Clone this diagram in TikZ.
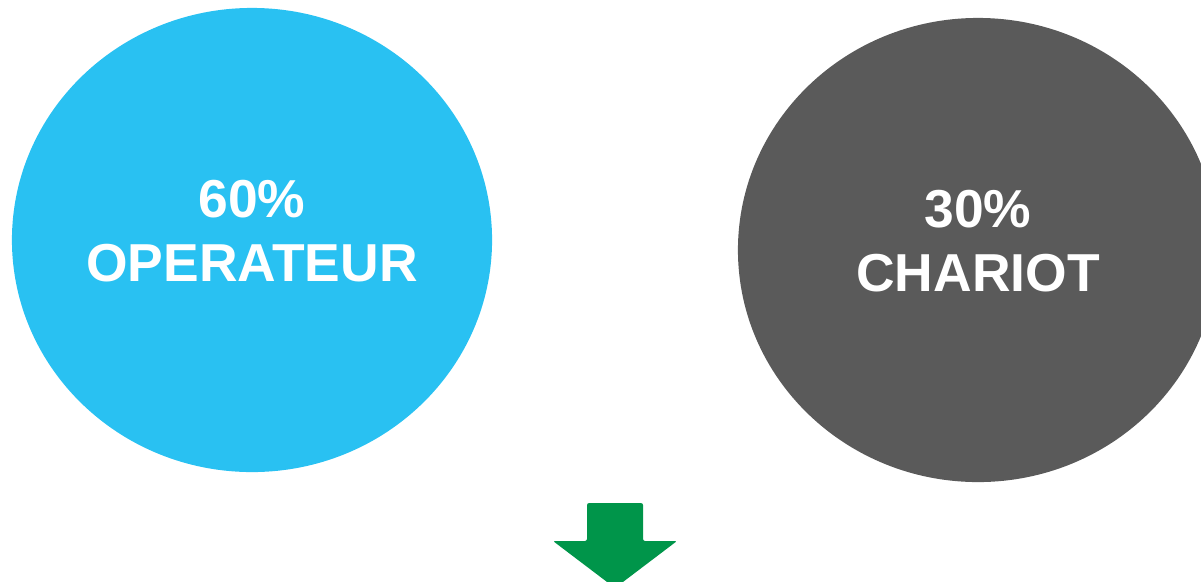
\documentclass[tikz,border=0pt]{standalone}
\usepackage{fontspec}
\setmainfont{Liberation Sans}
\definecolor{SkyBlue}{RGB}{41, 193, 242}
\definecolor{DarkGrey}{RGB}{90, 90, 90}
\definecolor{ArrowGreen}{RGB}{0, 149, 74}
\usetikzlibrary{shapes.geometric}

\begin{document}
\begin{tikzpicture}[x=0.025cm, y=-0.025cm,
        bubble/.style={ellipse, minimum width=12cm, minimum height=11.6cm, inner sep=0pt},
        bubbletext/.style={align=center, text=white, font=\bfseries\fontsize{38}{45.5}\selectfont},
        downarrow/.style={fill=ArrowGreen, rounded corners=1.5pt}
    ]
        \useasboundingbox (0,0) rectangle (1201,581);
        \node[bubble, fill=SkyBlue] (operateur) at (252,240) {};
        \node[bubble, fill=DarkGrey] (chariot) at (978,250) {};
        \node[bubbletext] (operateurtext) at ([yshift=6pt]operateur.center) {60\%\\OPERATEUR};
        \node[bubbletext] (chariottext) at ([yshift=6pt]chariot.center) {30\%\\CHARIOT};

        % fleche vers le bas
        \coordinate (tip) at (615,588);
        \fill[downarrow] (587,541) -- (587,503) -- (643,503) -- (643,541) -- (677,541) -- (tip) -- (553,541) -- cycle;
    \end{tikzpicture}
\end{document}
